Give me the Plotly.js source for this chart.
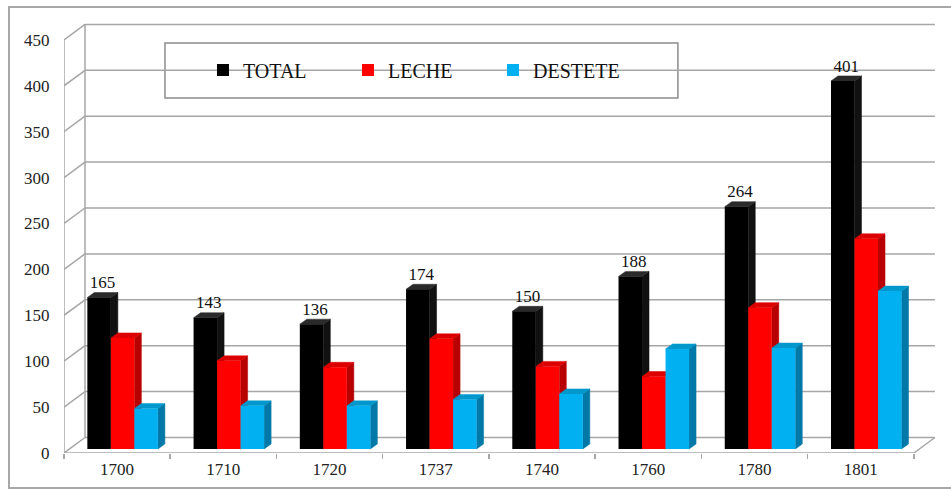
<!DOCTYPE html>
<html>
<head>
<meta charset="utf-8">
<script src="https://cdn.plot.ly/plotly-3.0.1.min.js"></script>
<style>
  html, body { margin: 0; padding: 0; background: #ffffff; }
  #chart { width: 951px; height: 494px; position: absolute; left: 0; top: 0; }
  #frame { position: absolute; left: 8px; top: 6px; width: 960px; height: 483px;
           border: 2px solid #a8a8a8; pointer-events: none; box-sizing: border-box; }
</style>
</head>
<body>
<div id="chart"></div>
<div id="frame"></div>
<script>
// ---- data ----
const categories = ['1700', '1710', '1720', '1737', '1740', '1760', '1780', '1801'];
const total      = [165, 143, 136, 174, 150, 188, 264, 401];
const leche      = [121,  96,  89, 120,  90,  79, 154, 229];
const destete    = [ 44,  47,  47,  54,  60, 109, 110, 172];
const seriesNames = ['TOTAL', 'LECHE', 'DESTETE'];
const yTickVals  = [0, 50, 100, 150, 200, 250, 300, 350, 400, 450];

// ---- styling / geometry ----
const FONT = "Liberation Serif";
const frontColors = ['#000000', '#ff0000', '#00b0f0'];
const sideColors  = ['#111111', '#b80000', '#0078a8'];
const topColors   = ['#2a2a2a', '#dd0000', '#0098cc'];
const PX_CAT = 106.25, PX_UNIT = 0.918;
const plotL = 64, plotT = 20, plotB = 453, W = 951, H = 494;
const wallDX = 21 / PX_CAT, wallDY = 15.5 / PX_UNIT;   // back wall depth
const barDX = 5.5 / PX_CAT, barDY = 4 / PX_UNIT;       // bar front plane depth
const faceDX = 7 / PX_CAT, faceDY = 5 / PX_UNIT;       // bar thickness
const BARGAP = 0.336;
const barW = (1 - BARGAP) / 3;
const nCat = categories.length;
const XR = [-0.5, nCat - 0.5 + wallDX + 0.02];
const YR = [0, (plotB - plotT) / PX_UNIT];
const plotW = (XR[1] - XR[0]) * PX_CAT;
const XR2 = [XR[0] - barDX, XR[1] - barDX];
const YR2 = [YR[0] - barDY, YR[1] - barDY];
const idx = categories.map((c, i) => i);
const allSeries = [total, leche, destete];

const traces = [];
// invisible trace registering the categories on the front axis
traces.push({ type: 'scatter', x: categories, y: categories.map(() => 0), mode: 'markers',
  marker: { opacity: 0 }, showlegend: false, hoverinfo: 'skip', xaxis: 'x', yaxis: 'y' });

// depth faces of the 3D columns (drawn beneath the fronts)
allSeries.forEach((vals, s) => {
  const sx = [], sy = [], tx = [], ty = [];
  vals.forEach((v, i) => {
    const xl = i - 0.5 * (1 - BARGAP) + s * barW;
    const xr = xl + barW;
    sx.push(xr, xr + faceDX, xr + faceDX, xr, xr, null);
    sy.push(0, faceDY, v + faceDY, v, 0, null);
    tx.push(xl, xl + faceDX, xr + faceDX, xr, xl, null);
    ty.push(v, v + faceDY, v + faceDY, v, v, null);
  });
  traces.push({ type: 'scatter', x: sx, y: sy, mode: 'lines', fill: 'toself',
    fillcolor: sideColors[s], line: { color: sideColors[s], width: 0.5 },
    showlegend: false, hoverinfo: 'skip', xaxis: 'x2', yaxis: 'y2' });
  traces.push({ type: 'scatter', x: tx, y: ty, mode: 'lines', fill: 'toself',
    fillcolor: topColors[s], line: { color: topColors[s], width: 0.5 },
    showlegend: false, hoverinfo: 'skip', xaxis: 'x2', yaxis: 'y2' });
});

// column fronts
allSeries.forEach((vals, s) => {
  traces.push({ type: 'bar', name: seriesNames[s], x: idx, y: vals,
    marker: { color: frontColors[s], line: { width: 0 } },
    xaxis: 'x3', yaxis: 'y3' });
});

// value labels for TOTAL
traces.push({ type: 'scatter', mode: 'text',
  x: idx.map(i => i - 0.5 * (1 - BARGAP) + barW / 2 + faceDX / 2),
  y: total.map(v => v + faceDY),
  text: total.map(String), textposition: 'top center',
  textfont: { family: FONT, size: 17, color: '#111' },
  showlegend: false, hoverinfo: 'skip', xaxis: 'x3', yaxis: 'y3' });

// ---- 3D frame decoration (walls, floor) ----
const GRID = '#a6a6a6';
const shapes = [];
const ln = (x0, y0, x1, y1, c, w) => shapes.push({ type: 'line', xref: 'x', yref: 'y',
  x0, y0, x1, y1, layer: 'below', line: { color: c || GRID, width: w || 1.5 } });
yTickVals.forEach(v => {
  ln(-0.5 + wallDX, v + wallDY, nCat - 0.5 + wallDX, v + wallDY);
  ln(-0.5, v, -0.5 + wallDX, v + wallDY);
});
ln(-0.5 + wallDX, wallDY, -0.5 + wallDX, yTickVals[yTickVals.length - 1] + wallDY);
ln(-0.5, 0, -0.5, yTickVals[yTickVals.length - 1]);
ln(-0.5, 0, nCat - 0.5, 0);
ln(nCat - 0.5, 0, nCat - 0.5 + wallDX, wallDY);
// legend frame
const px2x = p => (p - plotL) / plotW, px2y = p => (plotB - p) / (plotB - plotT);
shapes.push({ type: 'rect', xref: 'paper', yref: 'paper',
  x0: px2x(165), x1: px2x(678), y0: px2y(98), y1: px2y(43), layer: 'below',
  fillcolor: '#ffffff', line: { color: '#8c8c8c', width: 1.5 } });

const hidden = { showgrid: false, zeroline: false, showticklabels: false, ticks: '', showline: false };
const layout = {
  width: W, height: H,
  margin: { l: plotL, r: W - plotL - plotW, t: plotT, b: H - plotB, pad: 0 },
  paper_bgcolor: '#ffffff', plot_bgcolor: 'rgba(0,0,0,0)',
  font: { family: FONT, color: '#222' },
  barmode: 'group', bargap: BARGAP, bargroupgap: 0,
  showlegend: true,
  legend: { orientation: 'h', x: px2x(203), xanchor: 'left', y: px2y(70), yanchor: 'middle',
    bgcolor: 'rgba(0,0,0,0)', borderwidth: 0, font: { family: FONT, size: 20, color: '#111' },
    entrywidth: 100, entrywidthmode: 'pixels', traceorder: 'normal' },
  xaxis: { type: 'category', categoryorder: 'array', categoryarray: categories, range: XR,
    tickson: 'boundaries', ticks: 'outside', ticklen: 5, tickcolor: GRID, tickwidth: 1.5,
    ticklabelstandoff: 4,
    showgrid: false, zeroline: false, showline: false, fixedrange: true,
    tickfont: { family: FONT, size: 17, color: '#222' } },
  yaxis: { range: YR, tickvals: yTickVals, ticktext: yTickVals.map(String), ticks: 'outside',
    ticklen: 10, tickcolor: 'rgba(0,0,0,0)', showgrid: false, zeroline: false, showline: false,
    fixedrange: true, tickfont: { family: FONT, size: 17, color: '#222' } },
  xaxis2: Object.assign({ overlaying: 'x', anchor: 'y2', range: XR2, type: 'linear' }, hidden),
  yaxis2: Object.assign({ overlaying: 'y', anchor: 'x2', range: YR2 }, hidden),
  xaxis3: Object.assign({ overlaying: 'x', anchor: 'y3', range: XR2, type: 'linear' }, hidden),
  yaxis3: Object.assign({ overlaying: 'y', anchor: 'x3', range: YR2 }, hidden),
  shapes: shapes
};
Plotly.newPlot('chart', traces, layout, { displayModeBar: false, staticPlot: true });
</script>
</body>
</html>
